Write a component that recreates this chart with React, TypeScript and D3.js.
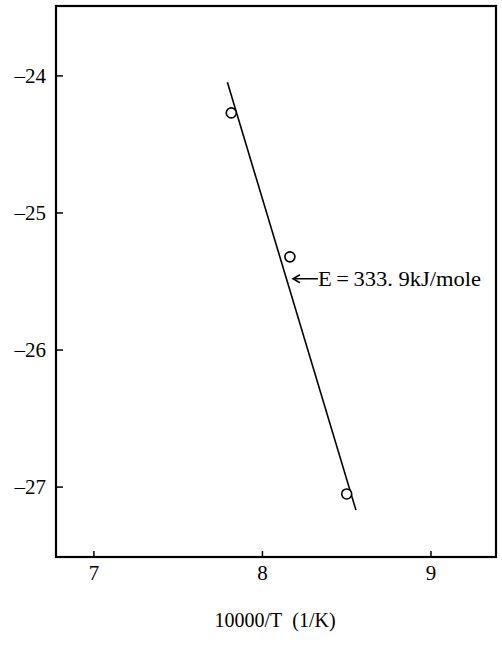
import React from "react";
import * as d3 from "d3";

const xPoints = [7.815, 8.163, 8.5];
const yPoints = [-24.27, -25.32, -27.05];
const fitX = [7.792, 8.555];
const fitY = [-24.046, -27.168];
const xTicks = [7, 8, 9];
const yTicks = [-24, -25, -26, -27];
const annotation = "E\u2009=\u2009333. 9kJ/mole";
const xTitle = "10000/T\u00a0\u00a0(1/K)";

const W = 502;
const H = 663;
const M = { left: 56, right: 6, top: 6, bottom: 106 };

export default function App() {
  const x = d3.scaleLinear().domain([6.775, 9.386]).range([M.left, W - M.right]);
  const y = d3.scaleLinear().domain([-27.51, -23.49]).range([H - M.bottom, M.top]);
  const line = d3.line<number>().x((_, i) => x(fitX[i])).y((_, i) => y(fitY[i]));
  const font = "'Liberation Serif', 'Times New Roman', serif";
  const tipX = x(8.181);
  const tipY = y(-25.48);
  return (
    <svg width={W} height={H} style={{ position: "absolute", left: 0, top: 0, background: "#fff", fontFamily: font }}>
      <rect x={x.range()[0]} y={y.range()[1]} width={x.range()[1] - x.range()[0]} height={y.range()[0] - y.range()[1]} fill="none" stroke="#000" strokeWidth={2.2} />
      {yTicks.map((t) => (
        <g key={"y" + t}>
          <line x1={x.range()[0]} x2={x.range()[0] + 7} y1={y(t)} y2={y(t)} stroke="#000" strokeWidth={1.5} />
          <text x={x.range()[0] - 10} y={y(t)} dy="0.35em" textAnchor="end" fontSize={21} style={{ fontFamily: font }}>
            {"\u2013" + Math.abs(t)}
          </text>
        </g>
      ))}
      {xTicks.map((t) => (
        <g key={"x" + t}>
          <line x1={x(t)} x2={x(t)} y1={y.range()[0]} y2={y.range()[0] - 6} stroke="#000" strokeWidth={1.5} />
          <text x={x(t)} y={y.range()[0] + 23} textAnchor="middle" fontSize={21} style={{ fontFamily: font }}>
            {t}
          </text>
        </g>
      ))}
      <path d={line(fitX) || ""} fill="none" stroke="#000" strokeWidth={1.6} />
      {xPoints.map((v, i) => (
        <circle key={i} cx={x(v)} cy={y(yPoints[i])} r={5} fill="#fff" stroke="#000" strokeWidth={1.6} />
      ))}
      <line x1={tipX} x2={tipX + 25} y1={tipY} y2={tipY} stroke="#000" strokeWidth={1.5} />
      <path d={`M${tipX + 7},${tipY - 4} L${tipX},${tipY} L${tipX + 7},${tipY + 4}`} fill="none" stroke="#000" strokeWidth={1.5} />
      <text x={tipX + 25} y={tipY} dy="0.35em" fontSize={21} textLength={163} lengthAdjust="spacingAndGlyphs" style={{ fontFamily: font }}>
        {annotation}
      </text>
      <text x={275} y={627} textAnchor="middle" fontSize={20} style={{ fontFamily: font }}>
        {xTitle}
      </text>
    </svg>
  );
}
